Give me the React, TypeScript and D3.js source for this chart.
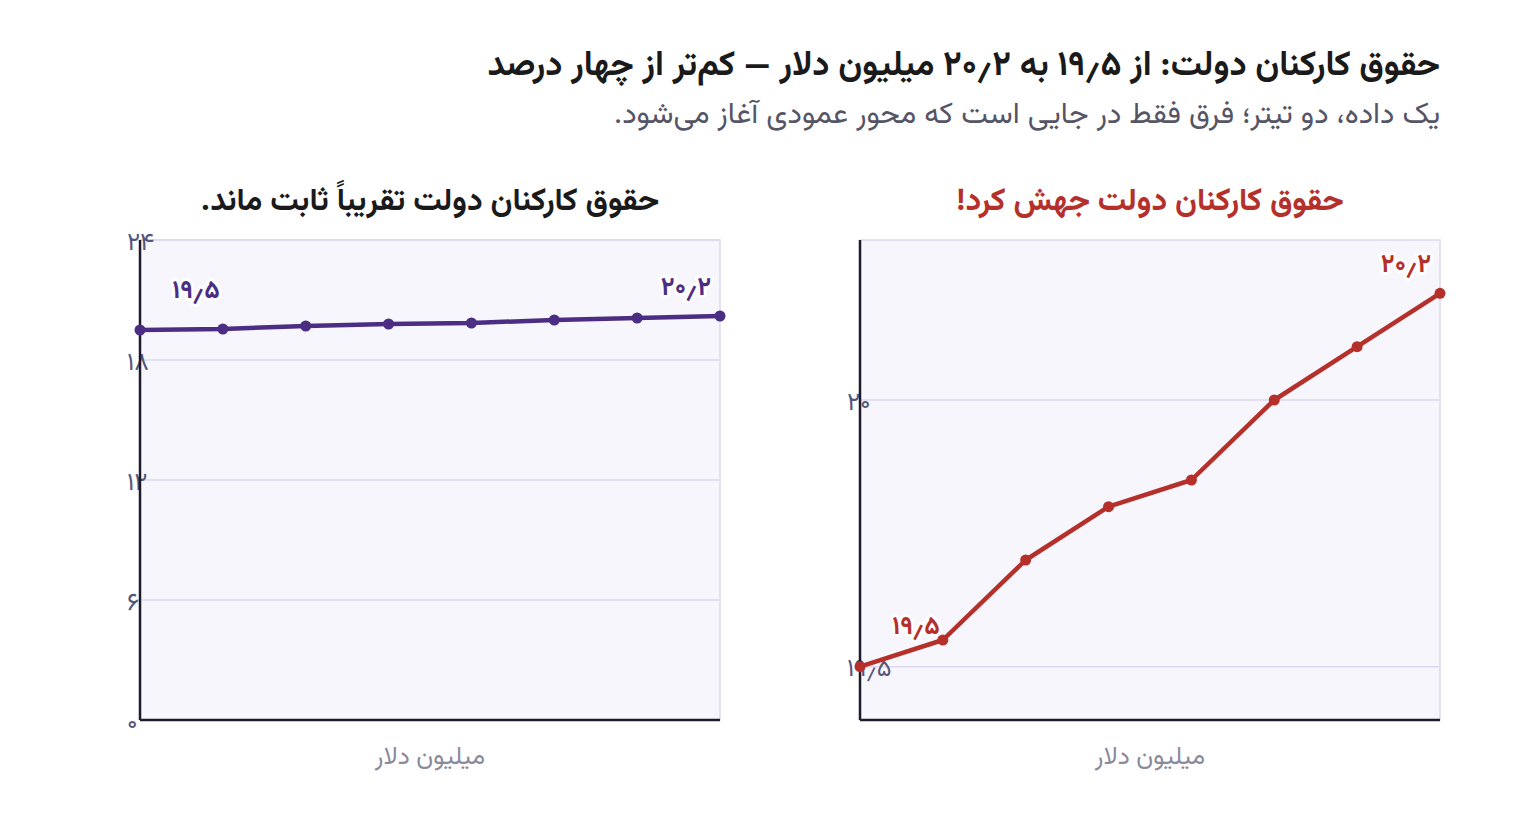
import React from "react";
import * as d3 from "d3";

const years = [0, 1, 2, 3, 4, 5, 6, 7];
const salaries = [19.5, 19.55, 19.7, 19.8, 19.85, 20.0, 20.1, 20.2];
const leftTicks = [0, 6, 12, 18, 24];
const rightTicks = [19.5, 20];
const leftDomain = [0, 24];
const rightDomain = [19.4, 20.3];

const mainTitle = "حقوق کارکنان دولت: از ۱۹٫۵ به ۲۰٫۲ میلیون دلار — کم‌تر از چهار درصد";
const subTitle = "یک داده، دو تیتر؛ فرق فقط در جایی است که محور عمودی آغاز می‌شود.";
const leftTitle = "حقوق کارکنان دولت تقریباً ثابت ماند.";
const rightTitle = "حقوق کارکنان دولت جهش کرد!";
const axisLabel = "میلیون دلار";

const FONT = "Vazirmatn, 'DejaVu Sans', Tahoma, sans-serif";

const fa = (v: number) =>
  String(v)
    .replace(/\./g, "٫")
    .replace(/\d/g, (d) => "۰۱۲۳۴۵۶۷۸۹"[+d]);

const PW = 580;
const PH = 480;

function Panel({
  x0,
  y0,
  domain,
  ticks,
  color,
  title,
  titleColor,
}: {
  x0: number;
  y0: number;
  domain: number[];
  ticks: number[];
  color: string;
  title: string;
  titleColor: string;
}) {
  const x = d3.scaleLinear().domain([0, years.length - 1]).range([0, PW]);
  const y = d3.scaleLinear().domain(domain).range([PH, 0]);
  const line = d3
    .line<number>()
    .x((_, i) => x(years[i]))
    .y((d) => y(d));
  const first = salaries[0];
  const last = salaries[salaries.length - 1];
  return (
    <g transform={`translate(${x0},${y0})`}>
      <text
        x={PW / 2}
        y={-38}
        textAnchor="middle"
        direction="rtl"
        dominantBaseline="middle"
        fontFamily={FONT}
        fontWeight={700}
        fontSize={31.5}
        fill={titleColor}
      >
        {title}
      </text>
      <rect x={0} y={0} width={PW} height={PH} fill="#f7f6fc" stroke="#dcd9ee" strokeWidth={1.5} />
      {ticks.map((t) => (
        <line key={t} x1={0} x2={PW} y1={y(t)} y2={y(t)} stroke="#dcd9ee" strokeWidth={1.5} />
      ))}
      {ticks.map((t) => (
        <text
          key={"l" + t}
          x={-13}
          y={y(t) + 3}
          direction="rtl"
          textAnchor="end"
          dominantBaseline="middle"
          fontFamily={FONT}
          fontSize={25}
          fill="#55557a"
        >
          {fa(t)}
        </text>
      ))}
      <line x1={0} x2={0} y1={0} y2={PH} stroke="#1c1a2b" strokeWidth={2.5} />
      <line x1={0} x2={PW} y1={PH} y2={PH} stroke="#1c1a2b" strokeWidth={2.5} />
      <path d={line(salaries) || ""} fill="none" stroke={color} strokeWidth={4.5} strokeLinejoin="round" />
      {salaries.map((s, i) => (
        <circle key={i} cx={x(years[i])} cy={y(s)} r={5.5} fill={color} />
      ))}
      <text
        x={x(years[0]) + 56}
        y={y(first) - 39}
        textAnchor="middle"
        dominantBaseline="middle"
        fontFamily={FONT}
        fontWeight={700}
        fontSize={25.5}
        fill={color}
        stroke="#ffffff"
        strokeWidth={6}
        paintOrder="stroke"
        strokeLinejoin="round"
      >
        {fa(first)}
      </text>
      <text
        x={x(years[years.length - 1]) - 34}
        y={y(last) - 28}
        textAnchor="middle"
        dominantBaseline="middle"
        fontFamily={FONT}
        fontWeight={700}
        fontSize={25.5}
        fill={color}
        stroke="#ffffff"
        strokeWidth={6}
        paintOrder="stroke"
        strokeLinejoin="round"
      >
        {fa(last)}
      </text>
      <text
        x={PW / 2}
        y={PH + 37}
        textAnchor="middle"
        dominantBaseline="middle"
        direction="rtl"
        fontFamily={FONT}
        fontSize={25}
        fill="#8a8a9a"
      >
        {axisLabel}
      </text>
    </g>
  );
}

export default function App() {
  return (
    <div style={{ position: "absolute", left: 0, top: 0 }}>
      <svg width={1520} height={840} style={{ display: "block", background: "#ffffff" }}>
        <text
          x={1440}
          y={66}
          textAnchor="start"
          direction="rtl"
          dominantBaseline="middle"
          fontFamily={FONT}
          fontWeight={700}
          fontSize={34.5}
          fill="#1a1a1a"
        >
          {mainTitle}
        </text>
        <text
          x={1440}
          y={115}
          textAnchor="start"
          direction="rtl"
          dominantBaseline="middle"
          fontFamily={FONT}
          fontSize={30}
          fill="#555566"
        >
          {subTitle}
        </text>
        <Panel
          x0={140}
          y0={240}
          domain={leftDomain}
          ticks={leftTicks}
          color="#4b2e83"
          title={leftTitle}
          titleColor="#1a1a1a"
        />
        <Panel
          x0={860}
          y0={240}
          domain={rightDomain}
          ticks={rightTicks}
          color="#b5302a"
          title={rightTitle}
          titleColor="#b5302a"
        />
      </svg>
    </div>
  );
}
